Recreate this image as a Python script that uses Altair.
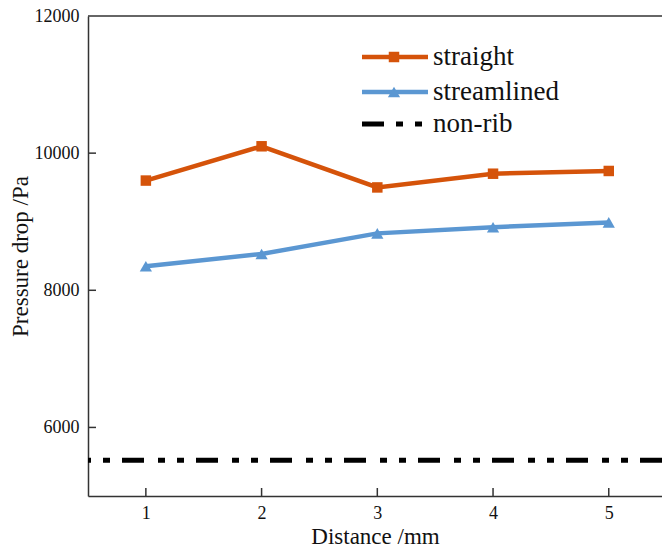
import altair as alt
import pandas as pd

distance = [1, 2, 3, 4, 5]
straight = [9600, 10100, 9500, 9700, 9740]
streamlined = [8350, 8530, 8830, 8920, 8990]
nonrib = [5520]
series_names = ["straight", "streamlined", "non-rib"]
y_ticks = [6000, 8000, 10000, 12000]
x_domain = [0.5, 5.46]
y_domain = [5000, 12000]

colors = {"straight": "#D5530A", "streamlined": "#5B97D2", "non-rib": "#000000"}
FONT = "Times New Roman, Liberation Serif, serif"

df = pd.DataFrame(
    {"d": distance * 2,
     "p": straight + streamlined,
     "s": ["straight"] * 5 + ["streamlined"] * 5}
)

xs = alt.Scale(domain=x_domain, nice=False, zero=False)
ys = alt.Scale(domain=y_domain, nice=False, zero=False)
cs = alt.Scale(domain=series_names[:2], range=[colors["straight"], colors["streamlined"]])

X = alt.X("d:Q", scale=xs, title="Distance /mm",
          axis=alt.Axis(values=distance, format="d", grid=False, ticks=False, tickSize=0,
                        labelPadding=8, labelFontSize=18, labelFont=FONT, labelColor="#111",
                        titleFont=FONT, titleFontSize=23, titleFontWeight="normal",
                        titleColor="#111", titlePadding=3, domainColor="#333", domainWidth=1.5))
Y = alt.Y("p:Q", scale=ys, title="Pressure drop /Pa",
          axis=alt.Axis(values=y_ticks, format="d", grid=False, ticks=False, tickSize=0,
                        labelPadding=9, labelFontSize=18, labelFont=FONT, labelColor="#111",
                        titleFont=FONT, titleFontSize=23, titleFontWeight="normal",
                        titleColor="#111", titlePadding=2,
                        domainColor="#333", domainWidth=1.5))

lines = alt.Chart(df).mark_line(strokeWidth=4.5).encode(
    x=X, y=Y, color=alt.Color("s:N", scale=cs, legend=None), detail="s:N")

sq = alt.Chart(df[df.s == "straight"]).mark_point(
    shape="square", filled=True, size=110, opacity=1, color=colors["straight"]
).encode(x=alt.X("d:Q", scale=xs), y=alt.Y("p:Q", scale=ys))
tri = alt.Chart(df[df.s == "streamlined"]).mark_point(
    shape="triangle-up", filled=True, size=150, opacity=1, color=colors["streamlined"]
).encode(x=alt.X("d:Q", scale=xs), y=alt.Y("p:Q", scale=ys))

dash = [22, 12, 7, 12, 7, 14]
nr = alt.Chart(pd.DataFrame({"p": nonrib})).mark_rule(
    strokeWidth=5, strokeDash=dash, color="black", strokeCap="butt"
).encode(y=alt.Y("p:Q", scale=ys))

# top border
top = alt.Chart(pd.DataFrame({"p": [y_domain[1]]})).mark_rule(
    strokeWidth=1.5, color="#333").encode(y=alt.Y("p:Q", scale=ys))

# inward ticks
xt = alt.Chart(pd.DataFrame({"d": distance})).mark_rule(strokeWidth=1.5, color="#333").encode(
    x=alt.X("d:Q", scale=xs), y=alt.value(480), y2=alt.value(472))
yt = alt.Chart(pd.DataFrame({"p": y_ticks[:-1]})).mark_rule(strokeWidth=1.5, color="#333").encode(
    y=alt.Y("p:Q", scale=ys), x=alt.value(0), x2=alt.value(8))

# manual legend
leg_y = [41, 76, 108]
leg_layers = []
for name, yy in zip(series_names, leg_y):
    ld = pd.DataFrame({"s": [name]})
    if name == "non-rib":
        leg_layers.append(alt.Chart(ld).mark_rule(strokeWidth=5, strokeDash=[22, 12, 7, 12, 7, 14],
                                                  color="black").encode(
            x=alt.value(274), x2=alt.value(340), y=alt.value(yy)))
    else:
        leg_layers.append(alt.Chart(ld).mark_rule(strokeWidth=4.5, color=colors[name]).encode(
            x=alt.value(274), x2=alt.value(340), y=alt.value(yy)))
        leg_layers.append(alt.Chart(ld).mark_point(
            shape="square" if name == "straight" else "triangle-up", filled=True,
            size=110 if name == "straight" else 150, opacity=1, color=colors[name]).encode(
            x=alt.value(306), y=alt.value(yy)))
    leg_layers.append(alt.Chart(ld).mark_text(align="left", baseline="middle", font=FONT,
                                              fontSize=27, color="#111").encode(
        x=alt.value(345), y=alt.value(yy), text="s:N"))

chart = alt.layer(nr, lines, sq, tri, top, xt, yt, *leg_layers).properties(
    width=574, height=480,
    padding={"left": 88, "top": 16, "right": 0, "bottom": 56},
    autosize=alt.AutoSizeParams(type="none"),
    background="white",
).configure(font=FONT).configure_view(stroke=None)

chart.save("out.html", embed_options={"renderer": "svg", "actions": False})
